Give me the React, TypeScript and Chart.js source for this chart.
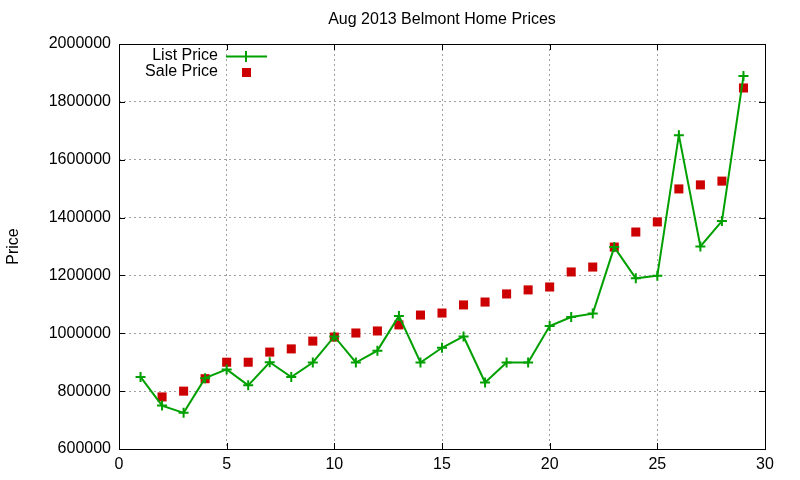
import React, { useEffect, useRef } from "react";
import { Chart, registerables } from "chart.js";

Chart.register(...registerables);

const chartTitle = "Aug 2013 Belmont Home Prices";
const yAxisTitle = "Price";
const listLabel = "List Price";
const saleLabel = "Sale Price";

const days = [1, 2, 3, 4, 5, 6, 7, 8, 9, 10, 11, 12, 13, 14, 15, 16, 17, 18, 19, 20, 21, 22, 23, 24, 25, 26, 27, 28, 29];
const listPrice = [
  849000, 750000, 725000, 845000, 875000, 820000, 900000, 849000, 899000, 989000,
  899000, 940000, 1060000, 899000, 950000, 989000, 830000, 899000, 899000, 1025000,
  1056000, 1068000, 1298000, 1190000, 1199000, 1685000, 1300000, 1388000, 1889000,
];
const salePrice = [
  null, 780000, 800000, 843000, 900000, 900000, 935000, 946000, 973000, 987000,
  1001000, 1008000, 1029000, 1063000, 1070000, 1098000, 1108000, 1136000, 1150000, 1160000,
  1212000, 1229000, 1298000, 1350000, 1385000, 1499000, 1513000, 1526000, 1848000,
];

const xTicks = [0, 5, 10, 15, 20, 25, 30];
const yTicks = [600000, 800000, 1000000, 1200000, 1400000, 1600000, 1800000, 2000000];

const FONT = "'Liberation Sans', Arial, sans-serif";
const GREEN = "#00a000";
const RED = "#cc0000";

const framePlugin = {
  id: "gnuFrame",
  afterDraw(chart: any) {
    const { ctx, chartArea } = chart;
    const { left, right, top, bottom } = chartArea;
    const xs = chart.scales.x;
    const ys = chart.scales.y;
    ctx.save();
    ctx.strokeStyle = "#000";
    ctx.lineWidth = 1;
    ctx.setLineDash([]);
    ctx.strokeRect(Math.round(left) + 0.5, Math.round(top) + 0.5, Math.round(right - left), Math.round(bottom - top));
    const tl = 6;
    ctx.beginPath();
    xTicks.forEach((v) => {
      const px = Math.round(xs.getPixelForValue(v)) + 0.5;
      ctx.moveTo(px, bottom);
      ctx.lineTo(px, bottom - tl);
      ctx.moveTo(px, top);
      ctx.lineTo(px, top + tl);
    });
    yTicks.forEach((v) => {
      const py = Math.round(ys.getPixelForValue(v)) + 0.5;
      ctx.moveTo(left, py);
      ctx.lineTo(left + tl, py);
      ctx.moveTo(right, py);
      ctx.lineTo(right - tl, py);
    });
    ctx.stroke();

    ctx.fillStyle = "#000";
    ctx.font = `16px ${FONT}`;
    ctx.textAlign = "center";
    ctx.textBaseline = "middle";
    ctx.fillText(chartTitle, (left + right) / 2, 20);

    ctx.textAlign = "right";
    const textRight = 218;
    const y1 = 56;
    const y2 = 72;
    ctx.fillText(listLabel, textRight, y1);
    ctx.fillText(saleLabel, textRight, y2);
    ctx.strokeStyle = GREEN;
    ctx.lineWidth = 2;
    ctx.beginPath();
    ctx.moveTo(226, y1 + 0.5);
    ctx.lineTo(267, y1 + 0.5);
    ctx.moveTo(246, y1 - 5);
    ctx.lineTo(246, y1 + 6);
    ctx.stroke();
    ctx.fillStyle = RED;
    ctx.fillRect(242, y2 - 4, 9, 9);
    ctx.restore();
  },
};

export default function App() {
  const ref = useRef<HTMLCanvasElement | null>(null);
  useEffect(() => {
    document.body.style.margin = "0";
    const canvas = ref.current;
    if (!canvas) return;
    const chart = new Chart(canvas, {
      type: "line",
      data: {
        datasets: [
          {
            label: listLabel,
            data: days.map((d, i) => ({ x: d, y: listPrice[i] })),
            borderColor: GREEN,
            backgroundColor: GREEN,
            borderWidth: 2,
            pointStyle: "cross",
            pointRadius: 5,
            pointBorderWidth: 2,
            pointBorderColor: GREEN,
            tension: 0,
            fill: false,
          },
          {
            label: saleLabel,
            data: days
              .map((d, i) => ({ x: d, y: salePrice[i] }))
              .filter((p) => p.y !== null),
            showLine: false,
            borderColor: RED,
            backgroundColor: RED,
            pointStyle: "rect",
            pointRadius: 6.4,
            pointBorderWidth: 0,
          },
        ],
      },
      options: {
        responsive: false,
        animation: false,
        layout: { padding: { left: 0, top: 44, right: 35, bottom: 0 } },
        plugins: {
          legend: { display: false },
          title: { display: false },
          tooltip: { enabled: false },
        },
        scales: {
          x: {
            type: "linear",
            min: 0,
            max: 30,
            afterBuildTicks(scale: any) {
              scale.ticks = xTicks.map((v) => ({ value: v }));
            },
            afterFit(scale: any) {
              scale.height = 31;
            },
            border: { display: false, dash: [2, 3] },
            grid: {
              color: "#a0a0a0",
              lineWidth: 1,
              drawTicks: false,
            },
            ticks: {
              color: "#000",
              font: { family: FONT, size: 16 },
              padding: 6,
              maxRotation: 0,
              autoSkip: false,
              callback: (v: any) => String(v),
            },
          },
          y: {
            type: "linear",
            min: 600000,
            max: 2000000,
            afterBuildTicks(scale: any) {
              scale.ticks = yTicks.map((v) => ({ value: v }));
            },
            afterFit(scale: any) {
              scale.width = 119;
            },
            border: { display: false, dash: [2, 3] },
            grid: {
              color: "#a0a0a0",
              lineWidth: 1,
              drawTicks: false,
            },
            ticks: {
              color: "#000",
              font: { family: FONT, size: 16 },
              padding: 8,
              autoSkip: false,
              callback: (v: any) => String(v),
            },
            title: {
              display: true,
              text: yAxisTitle,
              color: "#000",
              font: { family: FONT, size: 16 },
              padding: { top: 4, bottom: 0 },
            },
          },
        },
      },
      plugins: [framePlugin],
    } as any);
    return () => chart.destroy();
  }, []);
  return <canvas ref={ref} width={800} height={480} style={{ display: "block" }} />;
}
